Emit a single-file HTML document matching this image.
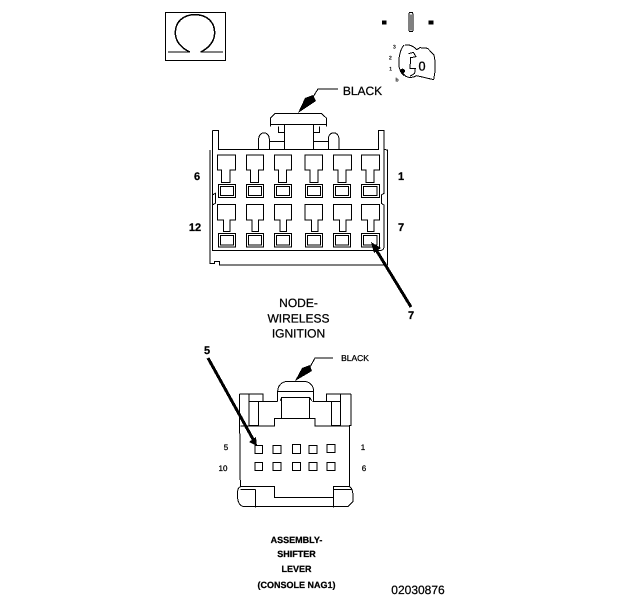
<!DOCTYPE html>
<html>
<head>
<meta charset="utf-8">
<style>
html,body{margin:0;padding:0;background:#fff;width:624px;height:600px;overflow:hidden}
svg{display:block;shape-rendering:crispEdges}
text{font-family:"Liberation Sans",sans-serif;fill:#000;stroke:#000;stroke-width:.25;text-anchor:middle;text-rendering:geometricPrecision}
.l{fill:none;stroke:#000}
</style>
</head>
<body>
<svg width="624" height="600" viewBox="0 0 624 600" xmlns="http://www.w3.org/2000/svg">
<rect width="624" height="600" fill="#fff"/>

<!-- Omega icon -->
<g transform="translate(150 0) scale(.33333)" class="l" stroke-width="3.2">
<rect x="46" y="38" width="181" height="143"/>
<path d="M54 156H120M152 156H219"/>
<path stroke-width="4.5" d="M120 156C95 145 76 125 76 98C76 65 100 44 135 44C170 44 194 65 194 98C194 125 175 145 152 156"/>
</g>

<!-- Key icon -->
<g transform="translate(360 5) scale(.33333)">
<rect x="66" y="46" width="14" height="12" fill="#000"/>
<rect x="206" y="46" width="14" height="12" fill="#000"/>
<g class="l" stroke-width="3">
<path d="M148 23C146 35 146 65 148 80H158C160 65 160 35 158 23Z"/>
<path d="M153 28V76" stroke-width="4"/>
<path d="M132 120C118 135 112 175 120 195C123 203 127 208 132 212"/>
<path d="M135 120C150 118 162 125 170 134L180 128L203 130L222 150C228 175 226 200 221 224L170 212C160 218 145 220 135 212L124 198"/>
<path d="M146 146L160 142L168 155L152 158L150 190H166L164 205L150 214"/>
</g>
<circle cx="128" cy="198" r="7" fill="#000"/>
<text x="103" y="131" font-size="16" font-weight="bold" style="stroke-width:0">3</text>
<text x="91" y="164" font-size="16" font-weight="bold" style="stroke-width:0">2</text>
<text x="92" y="197" font-size="16" font-weight="bold" style="stroke-width:0">1</text>
<text x="111" y="229" font-size="16" font-weight="bold" style="stroke-width:0">b</text>
<text x="186" y="196" font-size="38" style="stroke-width:1">0</text>
</g>

<!-- Upper connector -->
<g transform="translate(180 100) scale(.33333)" class="l" stroke-width="3">
<path d="M90 150V490H104V484H118V495H622V150L612 148"/>
<path d="M97 92H116V148H596V92H612V150"/>
<path d="M97 92V452H598C606 452 612 448 612 440V315L604 310V285L612 280V150"/>
<path d="M97 285L106 280V310L97 315"/>
<path d="M272 80V54L285 41H425L440 55V80"/>
<path d="M272 73H314V148M440 73H400V148M314 73H400"/>
<path d="M295 80V97H314M418 80V97H400"/>
<path d="M236 148V118C236 92 268 92 268 118V148M268 125H314"/>
<path d="M445 148V118C445 92 477 92 477 118V148M400 125H445"/>
<!-- top row -->
<path d="M112 165H167V210H150V247H125V210H112Z"/>
<rect x="115" y="253" width="52" height="40"/>
<rect x="122" y="259" width="38" height="28"/>
<path d="M199 165H251V210H236V247H212V210H199Z"/>
<rect x="199" y="253" width="52" height="40"/>
<rect x="206" y="259" width="38" height="28"/>
<path d="M283 165H335V210H320V247H296V210H283Z"/>
<rect x="283" y="253" width="52" height="40"/>
<rect x="290" y="259" width="38" height="28"/>
<path d="M375 165H428V210H414V247H390V210H375Z"/>
<rect x="376" y="253" width="52" height="40"/>
<rect x="383" y="259" width="38" height="28"/>
<path d="M460 165H514V210H498V247H474V210H460Z"/>
<rect x="460" y="253" width="52" height="40"/>
<rect x="467" y="259" width="38" height="28"/>
<path d="M544 165H598V210H582V247H558V210H544Z"/>
<rect x="544" y="253" width="54" height="40"/>
<rect x="551" y="259" width="40" height="28"/>
<!-- bottom row -->
<g transform="translate(0 148)">
<path d="M112 165H167V212H150V247H130V212H112Z"/>
<path d="M199 165H251V212H236V247H216V212H199Z"/>
<path d="M283 165H335V212H320V247H300V212H283Z"/>
<path d="M375 165H428V212H414V247H394V212H375Z"/>
<path d="M460 165H514V212H498V247H478V212H460Z"/>
<path d="M544 165H598V212H582V247H562V212H544Z"/>
<rect x="115" y="253" width="52" height="40"/>
<rect x="122" y="259" width="38" height="28"/>
<rect x="199" y="253" width="52" height="40"/>
<rect x="206" y="259" width="38" height="28"/>
<rect x="283" y="253" width="52" height="40"/>
<rect x="290" y="259" width="38" height="28"/>
<rect x="376" y="253" width="52" height="40"/>
<rect x="383" y="259" width="38" height="28"/>
<rect x="460" y="253" width="52" height="40"/>
<rect x="467" y="259" width="38" height="28"/>
<rect x="544" y="253" width="54" height="40"/>
<rect x="551" y="259" width="40" height="28"/>
</g>
</g>

<!-- Black arrow upper -->
<path class="l" stroke-width="1" d="M338 89H318L313 97"/>
<path d="M298 113L305 98L313 95L316 101Z" fill="#000"/>

<!-- Leader 7 upper -->
<path class="l" stroke-width="3" d="M375 248L411 307"/>
<path d="M371 242L381 248L374 253Z" fill="#000"/>

<!-- Lower connector -->
<g transform="translate(195 340) scale(.33333)" class="l" stroke-width="3">
<path d="M134 162H204V184H162V162M162 184V256H190V184M204 184H248"/>
<path d="M134 162V256L136 440"/>
<path d="M468 162H394V184H436V162M436 184V256H410V184M394 184H352"/>
<path d="M468 162V256H464V440"/>
<path d="M136 258H238V235H260V172H344V235H360V258H464"/>
<path d="M238 235H360M248 184V155C248 135 262 124 280 124H325C345 124 356 138 356 155V184M248 155H356M256 182L260 172M344 172L350 182"/>
<path d="M136 440H238V472H416V440H464C472 445 474 455 474 470V485L458 500H150C136 500 128 488 128 472V455C128 446 132 442 136 440"/>
<path d="M182 448V502M416 448V502M136 448H182M416 448H470"/>
<rect x="180" y="316" width="22" height="24"/>
<rect x="234" y="316" width="24" height="24"/>
<rect x="292" y="314" width="24" height="26"/>
<rect x="342" y="316" width="24" height="24"/>
<rect x="396" y="314" width="24" height="24"/>
<rect x="180" y="368" width="22" height="24"/>
<rect x="234" y="368" width="24" height="24"/>
<rect x="292" y="368" width="24" height="24"/>
<rect x="342" y="368" width="24" height="24"/>
<rect x="396" y="368" width="24" height="24"/>
</g>

<!-- Black arrow lower -->
<path class="l" stroke-width="1" d="M333 358H315L310 367"/>
<path d="M295 381L302 368L310 365L312 371Z" fill="#000"/>

<!-- Leader 5 lower -->
<path class="l" stroke-width="3" d="M208 358L254 441"/>
<path d="M257 446L249 442L256 437Z" fill="#000"/>

<!-- Labels -->
<text x="197" y="180" font-size="11" font-weight="bold">6</text>
<text x="401" y="180" font-size="11" font-weight="bold">1</text>
<text x="195" y="231" font-size="11" font-weight="bold">12</text>
<text x="401" y="231" font-size="11" font-weight="bold">7</text>
<text x="411" y="319" font-size="11" font-weight="bold">7</text>
<text x="362.500" y="95" font-size="12">BLACK</text>
<text x="298.500" y="307" font-size="12">NODE-</text>
<text x="298.500" y="322.500" font-size="12">WIRELESS</text>
<text x="298.500" y="337.500" font-size="12">IGNITION</text>
<text x="207" y="354" font-size="11" font-weight="bold">5</text>
<text x="355" y="361" font-size="8.500">BLACK</text>
<text x="226" y="450" font-size="8">5</text>
<text x="363" y="450" font-size="8">1</text>
<text x="223" y="471" font-size="8">10</text>
<text x="364" y="471" font-size="8">6</text>
<text x="296.500" y="543" font-size="9" font-weight="bold">ASSEMBLY-</text>
<text x="296.500" y="557" font-size="9" font-weight="bold">SHIFTER</text>
<text x="296.500" y="572" font-size="9" font-weight="bold">LEVER</text>
<text x="296.500" y="588" font-size="9" font-weight="bold">(CONSOLE NAG1)</text>
<text x="418" y="594" font-size="12">02030876</text>
</svg>
</body>
</html>
